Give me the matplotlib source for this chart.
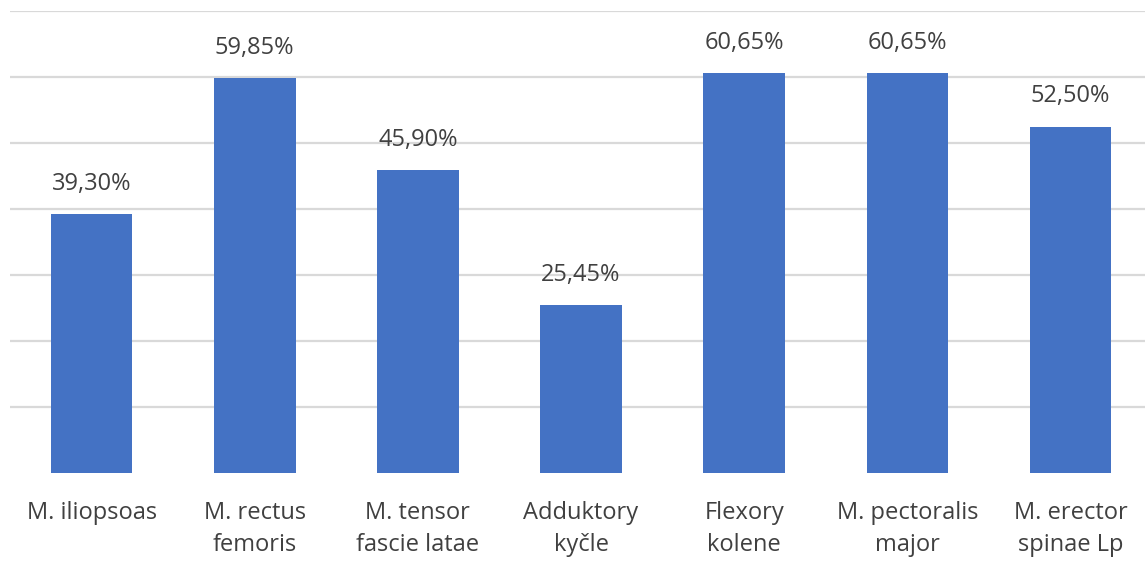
import matplotlib.pyplot as plt
import numpy as np

categories = ["M. iliopsoas", "M. rectus\nfemoris", "M. tensor\nfascie latae",
              "Adduktory\nkyčle", "Flexory\nkolene", "M. pectoralis\nmajor",
              "M. erector\nspinae Lp"]
values = [39.30, 59.85, 45.90, 25.45, 60.65, 60.65, 52.50]
labels = ["39,30%", "59,85%", "45,90%", "25,45%", "60,65%", "60,65%", "52,50%"]

plt.rcParams['font.family'] = ['Open Sans', 'DejaVu Sans']

W, H = 1145, 561
fig = plt.figure(figsize=(W / 100, H / 100), dpi=100)
ax = fig.add_axes([10 / W, (H - 473) / H, (1152 - 10) / W, (473 - 11) / H])

x = np.arange(len(categories))
ax.bar(x, values, width=0.5, color='#4472C4', zorder=2)
for xi, v, lab in zip(x, values, labels):
    ax.annotate(lab, (xi, v), xytext=(0, 13), textcoords='offset points',
                ha='center', va='bottom', fontsize=17, color='#404040')

ax.set_xlim(-0.5, len(categories) - 0.5)
ax.set_ylim(0, 70)
ax.set_yticks(np.arange(10, 71, 10))
ax.yaxis.grid(True, color='#d9d9d9', linewidth=1.6, zorder=0)
ax.set_xticks(x)
ax.set_xticklabels(categories, fontsize=17, color='#404040', linespacing=1.45)
ax.tick_params(axis='x', length=0, pad=20)
ax.tick_params(axis='y', length=0, labelleft=False)
for s in ax.spines.values():
    s.set_visible(False)

fig.savefig('out.png', dpi=100)
